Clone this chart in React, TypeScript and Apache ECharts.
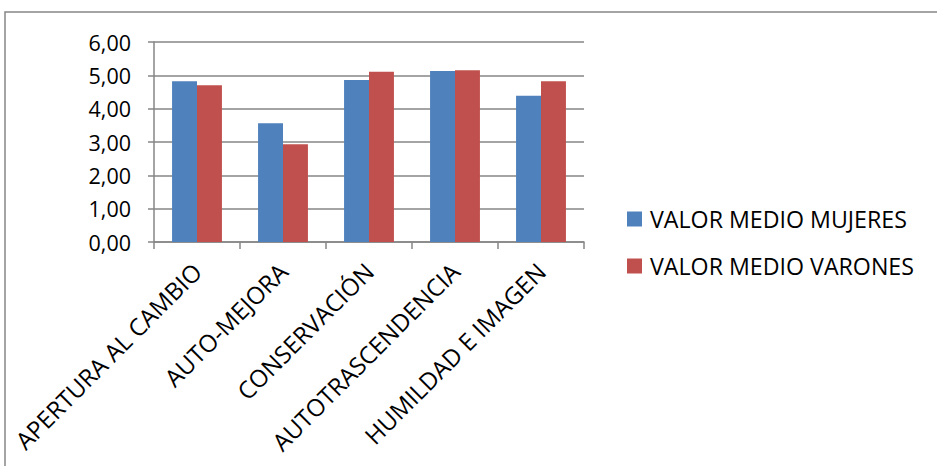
import React, { useEffect, useRef } from "react";
import * as echarts from "echarts";

const categories = [
  "APERTURA AL CAMBIO",
  "AUTO-MEJORA",
  "CONSERVACIÓN",
  "AUTOTRASCENDENCIA",
  "HUMILDAD E IMAGEN",
];
const mujeres = [4.82, 3.56, 4.86, 5.13, 4.39];
const varones = [4.7, 2.93, 5.11, 5.15, 4.82];
const seriesNames = ["VALOR MEDIO MUJERES", "VALOR MEDIO VARONES"];

const FONT = "'Open Sans', sans-serif";
const GRID = "#868686";

export default function App() {
  const ref = useRef<HTMLDivElement>(null);
  useEffect(() => {
    document.body.style.margin = "0";
    const chart = echarts.init(ref.current!, null, { renderer: "svg" });
    chart.setOption({
      animation: false,
      textStyle: { fontFamily: FONT },
      graphic: [
        {
          type: "rect",
          shape: { x: 5, y: 12, width: 1000, height: 1000 },
          style: { fill: "none", stroke: GRID, lineWidth: 1.5 },
          silent: true,
        },
      ],
      grid: { left: 154, right: 353, top: 42, bottom: 224, containLabel: false },
      legend: {
        orient: "vertical",
        left: 627,
        top: 207,
        padding: 0,
        itemWidth: 15,
        itemHeight: 15,
        itemGap: 23,
        icon: "rect",
        textStyle: {
          fontFamily: FONT,
          fontSize: 23.2,
          lineHeight: 24,
          color: "#000",
          padding: [0, 0, 0, 3],
        },
        data: seriesNames,
      },
      xAxis: {
        type: "category",
        data: categories,
        axisLine: { lineStyle: { color: GRID, width: 1.5 } },
        axisTick: { show: true, length: 7, lineStyle: { color: GRID, width: 1.5 } },
        axisLabel: {
          interval: 0,
          rotate: 45,
          margin: 25,
          fontFamily: FONT,
          fontSize: 24,
          color: "#000",
        },
      },
      yAxis: {
        type: "value",
        min: 0,
        max: 6,
        interval: 1,
        axisLine: { show: true, lineStyle: { color: GRID, width: 1.5 } },
        axisTick: { show: true, length: 6, lineStyle: { color: GRID, width: 1.5 } },
        splitLine: { show: true, lineStyle: { color: GRID, width: 1.5 } },
        axisLabel: {
          margin: 23,
          fontFamily: FONT,
          fontSize: 21.5,
          color: "#000",
          formatter: (v: number) => v.toFixed(2).replace(".", ","),
        },
      },
      series: [
        {
          name: seriesNames[0],
          type: "bar",
          data: mujeres,
          barGap: "0%",
          barCategoryGap: "42%",
          itemStyle: { color: "#4F81BD" },
        },
        {
          name: seriesNames[1],
          type: "bar",
          data: varones,
          barGap: "0%",
          barCategoryGap: "42%",
          itemStyle: { color: "#C0504D" },
        },
      ],
    });
    return () => chart.dispose();
  }, []);
  return (
    <div
      ref={ref}
      style={{ position: "absolute", left: 0, top: 0, width: 937, height: 466 }}
    />
  );
}
